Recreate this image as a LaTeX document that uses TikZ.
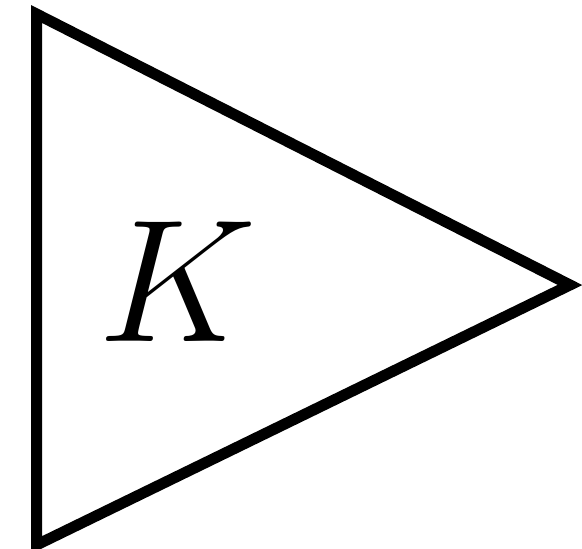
\documentclass[tikz,border=0pt]{standalone}
\begin{document}
\begin{tikzpicture}[
        every node/.style={font=\normalsize},
        gainline/.style={line width=0.11cm, line join=miter}
    ]
    \useasboundingbox (0,0) rectangle (5.82,5.49);

    % Gain block
    \coordinate (top) at (0.365,5.35);
    \coordinate (tip) at (5.70,2.64);
    \coordinate (bot) at (0.365,0.04);
    \draw[gainline] (top) -- (tip) -- (bot) -- cycle;

    % Label
    \node[font=\Huge, inner sep=0pt, scale=2] (gain) at (1.78,2.67) {$K$};

\end{tikzpicture}
\end{document}
